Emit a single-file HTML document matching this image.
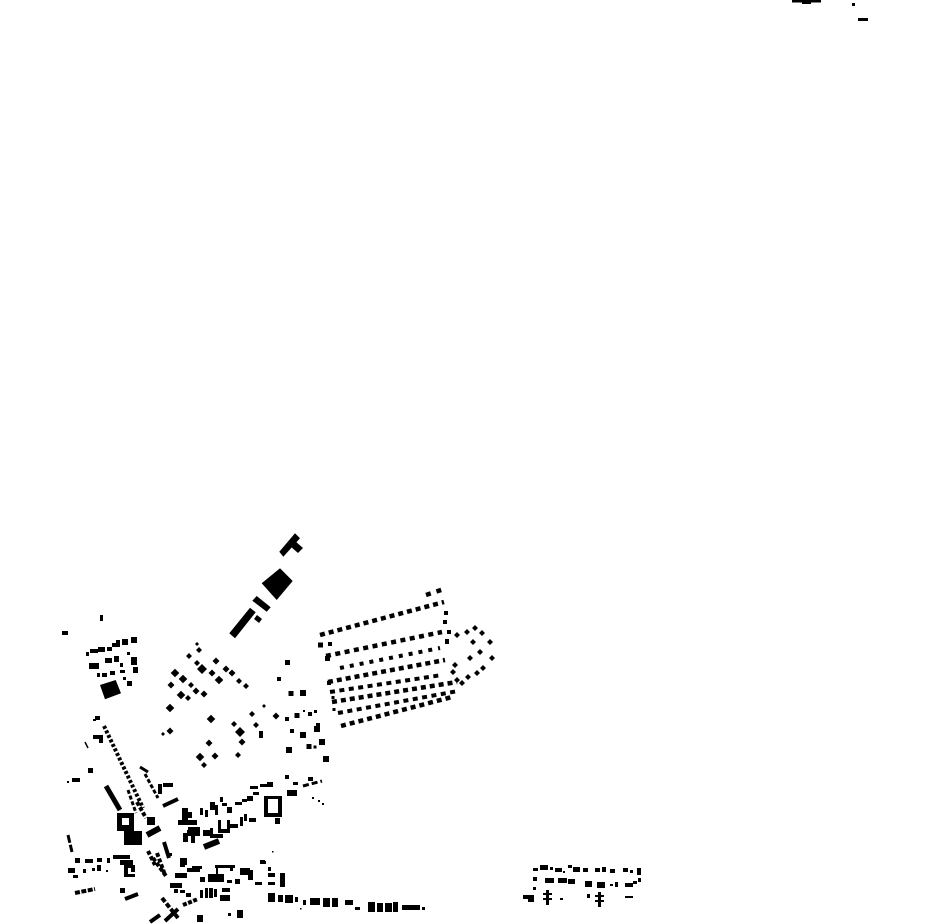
<!DOCTYPE html>
<html>
<head>
<meta charset="utf-8">
<style>
html,body{margin:0;padding:0;background:#fff;}
svg{display:block;}
</style>
</head>
<body>
<svg width="930" height="924" viewBox="0 0 930 924" xmlns="http://www.w3.org/2000/svg">
<g fill="#000" stroke="none">
<path d="M792 0h29v2.5h-29z M802 2h9v2h-9z M852 3h3v3h-3z M858 18h10v3h-10z"/>
<polygon points="279.3,551.7 295,533.3 300,538.3 283.3,556.7"/>
<polygon points="290,546 295,541 303,548 298,553"/>
<polygon points="261.7,583.3 280,568.3 292.7,581 276.7,600"/>
<polygon points="252.3,600.7 256.7,596 270.7,607.3 266.7,611.7"/>
<polygon points="229.3,633.3 250,607.7 255.7,612.3 235,638.3"/>
<polygon points="254,619 257,615 262,619 259,623"/>
<polygon points="100,685 115.7,680 121,693.3 105,699.3"/>

<path d="M100 615h3v6h-3z M62 631h6v4h-6z M86 652h3v4h-3z M90 649h8v4h-8z M98 647h7v5h-7z M107 647h5v4h-5z M112 643h4v4h-4z M116 640h4v7h-4z M122 639h6v6h-6z M131 637h6v6h-6z M89 663h10v6h-10z M105 658h7v5h-7z M114 656h5v6h-5z M127 652h3v3h-3z M120 663h3v4h-3z M131 657h6v8h-6z M133 667h5v6h-5z M97 673h3v4h-3z M102 673h5v4h-5z M110 671h5v4h-5z M120 670h5v3h-5z M123 677h3v3h-3z M127 681h5v5h-5z M95 716h5v4h-5z M93 719h3v2h-3z"/>

<path d="M197 642l2 2-2 2-2-2z M199 647l3 3-3 3-3-3z M189 653l3 3-3 3-3-3z M197 660l3 3-3 3-3-3z M216 657.5l3.5 3.5-3.5 3.5-3.5-3.5z M202 664l5 5-5 5-5-5z M175 668.7l4.3 4.3-4.3 4.3-4.3-4.3z M183 674.7l4.3 4.3-4.3 4.3-4.3-4.3z M212 669.5l3.5 3.5-3.5 3.5-3.5-3.5z M226 665.5l3.5 3.5-3.5 3.5-3.5-3.5z M232 669.5l3.5 3.5-3.5 3.5-3.5-3.5z M219 675.7l4.3 4.3-4.3 4.3-4.3-4.3z M191 682l3 3-3 3-3-3z M196 687.5l3.5 3.5-3.5 3.5-3.5-3.5z M171 681.5l3.5 3.5-3.5 3.5-3.5-3.5z M181 690.7l4.3 4.3-4.3 4.3-4.3-4.3z M188 695l3 3-3 3-3-3z M204 690.5l3.5 3.5-3.5 3.5-3.5-3.5z M239 678l3 3-3 3-3-3z M246 683l3 3-3 3-3-3z M170 703.7l4.3 4.3-4.3 4.3-4.3-4.3z M211 714.7l4.3 4.3-4.3 4.3-4.3-4.3z M170 727.5l3.5 3.5-3.5 3.5-3.5-3.5z M163 732l2 2-2 2-2-2z M234 721l3 3-3 3-3-3z M240 727l5 5-5 5-5-5z M242 738.5l3.5 3.5-3.5 3.5-3.5-3.5z M209 739.5l3.5 3.5-3.5 3.5-3.5-3.5z M200 752.7l4.3 4.3-4.3 4.3-4.3-4.3z M215 752.5l3.5 3.5-3.5 3.5-3.5-3.5z M204 762l3 3-3 3-3-3z M238 752l3 3-3 3-3-3z M252 711l3 3-3 3-3-3z M264 704l2 2-2 2-2-2z M256 722l3 3-3 3-3-3z M276 712.5l3.5 3.5-3.5 3.5-3.5-3.5z"/>

<path d="M457 632l3 3-3 3-3-3z M467 629l3 3-3 3-3-3z M475 625l3 3-3 3-3-3z M482 630l3 3-3 3-3-3z M490 639l3 3-3 3-3-3z M473 639l3 3-3 3-3-3z M480 649l3 3-3 3-3-3z M470 655l3 3-3 3-3-3z M492 655l3 3-3 3-3-3z M483 665l3 3-3 3-3-3z M477 670l3 3-3 3-3-3z M468 674l3 3-3 3-3-3z M462 680l3 3-3 3-3-3z M455 662l3 3-3 3-3-3z M453 669l3 3-3 3-3-3z M457 677l3 3-3 3-3-3z M444 611h4v4h-4z M443 620h4v4h-4z M447 630h4v4h-4z M445 639h4v5h-4z"/>

<path d="M285 660h5v5h-5z M277 677h4v4h-4z M288.5 691h5v5h-5z M300 690h6v6h-6z M285 717h4v4h-4z M294.5 713h5v5h-5z M303 710h2v2h-2z M308 712h4v4h-4z M290 729h4v4h-4z M300 732h6v6h-6z M314 726h6v6h-6z M306.5 744h5v5h-5z M313.5 745.5h3v3h-3z M319 739h6v6h-6z M286 747h6v6h-6z M323 756h6v6h-6z M318 642.5h5v5h-5z M328 642h4v4h-4z M325 656h5v5h-5z M327 681h4v4h-4z M331.5 690h3v3h-3z M331.5 696h3v3h-3z M332.5 708h3v3h-3z M314 710h3v3h-3z M316 723h4v4h-4z M259 731h4v7h-4z"/>

<path d="M93 735h10v4h-10z M99 735h4v8h-4z M88 768h5v5h-5z M72 778h8v4h-8z M67 781h2v2h-2z M124 831h18v14h-18z M147 817h8v8h-8z M167 853h5v3h-5z M182 858h5v7h-5z M183 833h5v9h-5z M188 827h12v9h-12z M182 808h6v17h-6z M178 820h19v5h-19z M187 812h5v6h-5z M187 830h10v4h-10z M191 830h4v13h-4z M203 830h7v6h-7z M210 828h3v9h-3z M210 834h13v4h-13z M218 820h3v12h-3z M218 829h12v4h-12z M227 820h3v12h-3z M229 824h9v4h-9z M240 817h3v9h-3z M244 814h3v7h-3z M249 818h7v4h-7z M264 796h18v3h-18z M264 796h4v21h-4z M278 796h4v21h-4z M264 813h18v4h-18z M275 818h5v6h-5z M200 808h3v7h-3z M205 810h3v7h-3z M210 802h5v8h-5z M215 805h3v10h-3z M220 797h3v5h-3z M222 803h5v3h-5z M227 807h5v6h-5z M235 802h7v3h-7z M242 799h5v3h-5z M247 796h6v5h-6z M250 786h8v3h-8z M260 784h7v3h-7z M267 782h6v5h-6z M253 792h6v3h-6z M287 790h10v6h-10z M285 775h4v4h-4z M293 782h5v3h-5z M308 777h5v4h-5z M312 797h2v2h-2z M318 800h2v2h-2z M322 803h2v2h-2z M163 783h10v4h-10z M158 784h4v10h-4z"/>
<path fill-rule="evenodd" d="M117 813h17v18h-17z M122 818v7h7v-7z"/>

<path d="M75 858h5v5h-5z M85 859h8v4h-8z M97 858h5v4h-5z M107 858h3v5h-3z M113 855h17v4h-17z M120 860h13v5h-13z M124 865h4v12h-4z M124 865h11v3h-11z M124 874h11v3h-11z M131 868h4v4h-4z M68 868h7v5h-7z M73 875h5v3h-5z M83 869h3v4h-3z M92 868h3v3h-3z M97 865h4v6h-4z M106 870h2v2h-2z M120 888h5v5h-5z"/>

<path d="M180 858h5v9h-5z M175 873h12v5h-12z M187 868h13v4h-13z M192 866h10v3h-10z M200 877h5v5h-5z M208 874h16v8h-16z M215 865h20v3h-20z M216 868h2v9h-2z M230 866h3v5h-3z M227 880h5v3h-5z M235 879h5v5h-5z M240 868h10v7h-10z M248 873h5v7h-5z M255 882h7v3h-7z M260 860h5v4h-5z M268 867h3v4h-3z M268 873h7v4h-7z M268 882h7v3h-7z M280 873h5v14h-5z M250 870h3v7h-3z M262 861h4v3h-4z M272 851h1.5v1.5h-1.5z M170 883h12v5h-12z M174 889h4v4h-4z M180 890h5v3h-5z M186 893h5v4h-5z M200 890h3v8h-3z M205 888h3v10h-3z M209 888h4v10h-4z M214 889h3v8h-3z M222 888h8v4h-8z M220 895h10v6h-10z M197 915h6v7h-6z M228 913h3v3h-3z M237 910h6v8h-6z"/>

<path d="M268 893h7v9h-7z M278 895h5v7h-5z M285 895h8v8h-8z M295 897h3v5h-3z M303 900h3v5h-3z M300 908h1.5v1.5h-1.5z M310 898h10v7h-10z M323 898h7v9h-7z M332 898h6v9h-6z M345 900h8v5h-8z M355 907h5v3h-5z M368 902h7v10h-7z M377 903h6v9h-6z M385 903h7v9h-7z M393 902h5v10h-5z M402 905h18v5h-18z M422 907h3v3h-3z"/>

<path d="M533 868h5v3h-5z M540 865h8v5h-8z M550 867h3v3h-3z M555 868h7v4h-7z M563 871h2v2h-2z M568 865h4v3h-4z M573 867h7v5h-7z M583 868h5v4h-5z M595 868h5v4h-5z M602 867h4v5h-4z M610 869h5v4h-5z M623 868h5v4h-5z M630 870h3v3h-3z M637 868h4v7h-4z M533 877h4v4h-4z M545 878h9v5h-9z M558 878h9v5h-9z M568 879h7v5h-7z M585 881h7v6h-7z M597 882h8v6h-8z M610 884h3v2h-3z M615 882h3v5h-3z M625 883h8v4h-8z M633 881h4v3h-4z M638 878h3v4h-3z M533 887h3v3h-3z M523 895h5v4h-5z M528 895h6v7h-6z M546 890h3v15h-3z M543 893h9v2h-9z M543 898h9v2h-9z M560 898h3v2h-3z M587 894h3v4h-3z M598 892h3v15h-3z M595 895h9v2h-9z M595 900h9v2h-9z M625 896h8v2h-8z"/>
</g>

<g stroke="#000" fill="none" stroke-linecap="butt">
<path stroke-width="4.5" stroke-dasharray="5 6" d="M426 595L444 589"/>
<path stroke-width="4.5" stroke-dasharray="5 4" d="M320 635L444 602 M328 682L445 660 M332 702L457 682 M341 726L452 697"/>
<path stroke-width="4.5" stroke-dasharray="5 4.5" d="M326 656L442 632"/>
<path stroke-width="4" stroke-dasharray="4 6" d="M340 668L440 648"/>
<path stroke-width="4" stroke-dasharray="5 4.5" d="M330 692L442 675 M338 713L458 691"/>
<path stroke-width="4" stroke-dasharray="3 2" d="M104 726L143 808"/>
<path stroke-width="1.5" d="M85 742L88 748"/>
<path stroke-width="3" d="M140 767L148 772"/>
<path stroke-width="3" stroke-dasharray="4 2" d="M145 774L158 798 M128 790L136 813"/>
<path stroke-width="4" d="M163 806L178 799 M164 842L169 858 M125 899L138 894 M165 921L178 909 M150 922L160 915"/>
<path stroke-width="5" d="M106 786L120 810"/>
<path stroke-width="4" stroke-dasharray="4 2" d="M137 802L146 818 M148 851L155 865 M157 853L165 875 M153 858L166 876"/>
<path stroke-width="6" d="M147 835L160 828 M204 847L219 841"/>
<path stroke-width="3" stroke-dasharray="8 2" d="M68 835L72 852"/>
<path stroke-width="3" stroke-dasharray="6 3" d="M303 786L322 781"/>
<path stroke-width="4" stroke-dasharray="5 1.5" d="M75 893L95 889"/>
<path stroke-width="4" stroke-dasharray="5 2" d="M162 898L178 918"/>
<path stroke-width="4" stroke-dasharray="4 1.5" d="M183 905L198 899"/>
</g>
</svg>
</body>
</html>
